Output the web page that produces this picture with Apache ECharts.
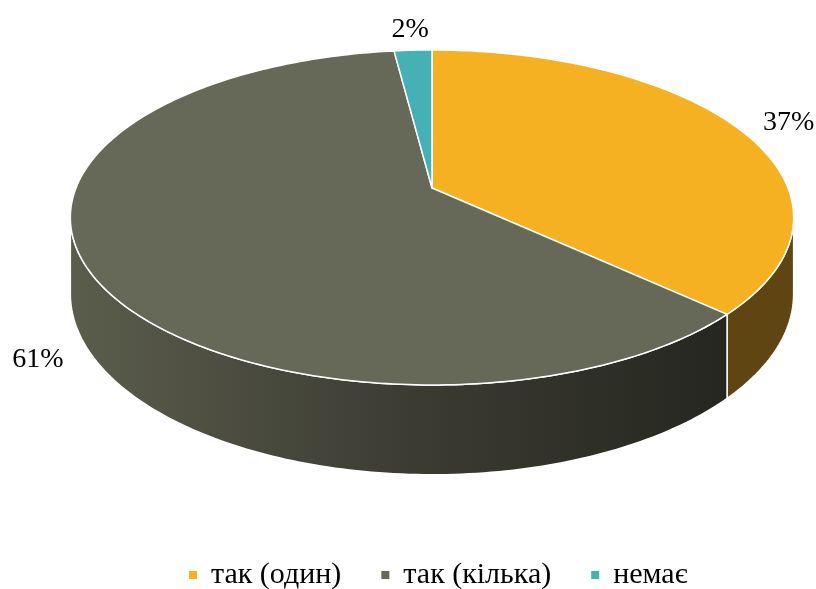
<!DOCTYPE html>
<html>
<head>
<meta charset="utf-8">
<script src="https://cdn.jsdelivr.net/npm/echarts@6/dist/echarts.min.js"></script>
<style>
  html, body { margin: 0; padding: 0; background: #fff; }
  #chart { width: 816px; height: 589px; }
</style>
</head>
<body>
<div id="chart"></div>
<script>
// дані
const categories = ['так (один)', 'так (кілька)', 'немає'];
const values = [37, 61, 2];
const labels = ['37%', '61%', '2%'];

// геометрія "3D" (перспектива)
const geo = { cx: 432, cy: 188, A: 356, B: 162.3, p: 0.176, H: 74 };

// кольори
const topColors = ['#F5B122', '#666858', '#45B1B5'];
const sideColors = [
  '#5E4511',
  { type: 'linear', global: true, x: geo.cx - 362, y: 0, x2: geo.cx + 300, y2: 0,
    colorStops: [{ offset: 0, color: '#5B5D4C' }, { offset: 0.5, color: '#3C3C33' }, { offset: 1, color: '#25261F' }] },
  '#2E6E70'
];

const total = values.reduce((a, b) => a + b, 0);
const starts = [];
let acc = 0;
values.forEach(v => { starts.push(acc / total * 360); acc += v; });

const rad = d => d * Math.PI / 180;
const project = (deg, r, drop) => {
  const X = r * Math.sin(rad(deg));
  const Z = -r * Math.cos(rad(deg));
  const w = 1 / (1 - geo.p * Z);
  return [geo.cx + geo.A * X * w, geo.cy + geo.B * Z * w + drop * w];
};
const arc = (a, b, drop) => {
  const pts = [];
  const n = Math.max(2, Math.ceil(b - a));
  for (let i = 0; i <= n; i++) pts.push(project(a + (b - a) * i / n, 1, drop));
  return pts;
};

// видима частина бічної стінки
const silR = Math.acos(-geo.p) * 180 / Math.PI;
const silL = 360 - silR;

const makeRender = idx => (params, api) => {
  const a = starts[idx];
  const b = a + values[idx] / total * 360;
  const children = [];
  const wa = Math.max(a, silR), wb = Math.min(b, silL);
  if (wb > wa) {
    const top = arc(wa, wb, 0);
    const bottom = arc(wa, wb, geo.H).reverse();
    children.push({
      type: 'polygon', z2: 1,
      shape: { points: top.concat(bottom) },
      style: { fill: sideColors[idx], stroke: '#fff', lineWidth: 1.5 }
    });
  }
  children.push({
    type: 'polygon', z2: 5,
    shape: { points: [[geo.cx, geo.cy]].concat(arc(a, b, 0)) },
    style: { fill: topColors[idx], stroke: '#fff', lineWidth: 1.5, lineJoin: 'round' }
  });

  // підпис
  const mid = (a + b) / 2;
  const Z = -Math.cos(rad(mid));
  const anchor = project(mid, 1, Z > 0 ? geo.H : 0);
  let dx = anchor[0] - geo.cx, dy = anchor[1] - geo.cy;
  const len = Math.hypot(dx, dy);
  dx /= len; dy /= len;
  const off = Z < -0.9 ? 21 : 26;
  const sx = Math.sin(rad(mid));
  children.push({
    type: 'text', z2: 10,
    x: anchor[0] + dx * off,
    y: anchor[1] + dy * off,
    style: {
      text: labels[idx],
      fill: '#000',
      font: '28px "Liberation Serif", "Times New Roman", serif',
      align: sx > 0.3 ? 'left' : (sx < -0.3 ? 'right' : 'center'),
      verticalAlign: 'middle'
    }
  });
  return { type: 'group', children };
};

const chart = echarts.init(document.getElementById('chart'));
chart.setOption({
  backgroundColor: '#fff',
  animation: false,
  legend: {
    data: categories,
    top: 555,
    left: 184,
    icon: 'rect',
    itemWidth: 8,
    itemHeight: 8,
    itemGap: 40,
    textStyle: {
      fontFamily: '"Liberation Serif", "Times New Roman", serif',
      fontSize: 30,
      color: '#000',
      padding: [0, 0, 0, 9]
    }
  },
  series: categories.map((name, i) => ({
    type: 'custom',
    name,
    coordinateSystem: 'none',
    itemStyle: { color: topColors[i] },
    data: [values[i]],
    renderItem: makeRender(i)
  }))
});
</script>
</body>
</html>
